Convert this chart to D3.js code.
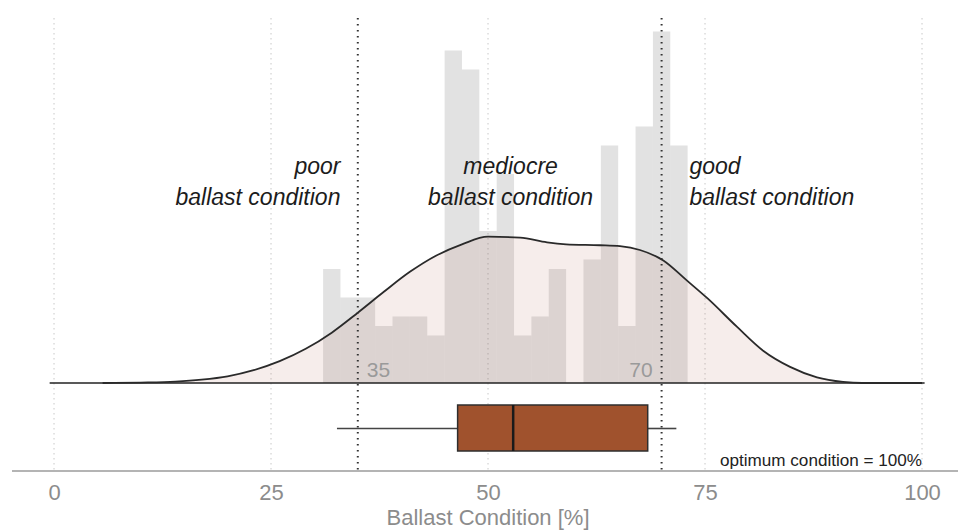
<!DOCTYPE html>
<html>
<head>
<meta charset="utf-8">
<script src="https://cdn.jsdelivr.net/npm/d3@7"></script>
<style>
  html, body { margin: 0; padding: 0; background: #fff; }
  svg { display: block; font-family: "Liberation Sans", Arial, sans-serif; }
</style>
</head>
<body>
<svg id="chart" width="962" height="532"></svg>
<script>
// Histogram of ballast condition, bins of 2 %, counts per bin
const binStarts = [31, 33, 35, 37, 39, 41, 43, 45, 47, 49, 51, 53, 55, 57, 59, 61, 63, 65, 67, 69, 71];
const binCounts = [12, 9, 9, 6, 7, 7, 5, 35, 33, 16, 22, 5, 7, 12, 0, 13, 25, 6, 27, 37, 25];
const binWidth = 2;

// Kernel density estimate, scaled to counts
const densityX = [5.6, 10, 14, 17, 20, 23, 26, 29, 32, 35, 38, 41, 44, 47, 50, 53.7, 56.8, 59, 62.9, 65.2, 67.5, 70.2, 72.9, 75.3, 78.7, 81.7, 84.8, 87.9, 90.9, 93.1, 100];
const densityY = [0, 0.05, 0.15, 0.35, 0.7, 1.35, 2.3, 3.6, 5.3, 7.4, 9.6, 11.7, 13.4, 14.6, 15.4, 15.3, 14.8, 14.6, 14.5, 14.4, 14.0, 12.9, 10.8, 8.9, 5.9, 3.4, 1.7, 0.6, 0.12, 0, 0];

// Boxplot summary
const boxStats = { min: 32.6, q1: 46.5, median: 52.9, q3: 68.4, max: 71.7 };

// Condition thresholds and axis ticks
const thresholds = [35, 70];
const xTicks = [0, 25, 50, 75, 100];
const conditionLabels = [
  { at: 33, anchor: "end", lines: ["poor", "ballast condition"] },
  { at: 52.6, anchor: "middle", lines: ["mediocre", "ballast condition"] },
  { at: 73.2, anchor: "start", lines: ["good", "ballast condition"] }
];

const svg = d3.select("#chart");
const x = d3.scaleLinear().domain([0, 100]).range([54, 922]);
const y = d3.scaleLinear().domain([0, 40]).range([383, 3]);

const gridTop = 18, axisY = 471;

// light vertical grid
svg.append("g").selectAll("line").data(xTicks).join("line")
  .attr("x1", d => x(d)).attr("x2", d => x(d))
  .attr("y1", gridTop).attr("y2", axisY)
  .attr("stroke", "#c8c8c8").attr("stroke-width", 1)
  .attr("stroke-dasharray", "1.5,3.5");

// histogram bars
svg.append("g").selectAll("rect").data(binStarts).join("rect")
  .attr("x", d => x(d))
  .attr("width", x(binWidth) - x(0))
  .attr("y", (d, i) => y(binCounts[i]))
  .attr("height", (d, i) => y(0) - y(binCounts[i]))
  .attr("fill", "rgba(120,120,120,0.21)");

// density curve
const pts = densityX.map((d, i) => [d, densityY[i]]);
const area = d3.area().x(d => x(d[0])).y0(y(0)).y1(d => y(d[1])).curve(d3.curveMonotoneX);
const line = d3.line().x(d => x(d[0])).y(d => y(d[1])).curve(d3.curveMonotoneX);
svg.append("path").datum(pts).attr("d", area).attr("fill", "rgba(170,95,70,0.11)");

// baseline
svg.append("line")
  .attr("x1", x(-0.5)).attr("x2", x(100.3))
  .attr("y1", y(0)).attr("y2", y(0))
  .attr("stroke", "#222").attr("stroke-width", 1.6);

svg.append("path").datum(pts).attr("d", line)
  .attr("fill", "none").attr("stroke", "#2a2a2a").attr("stroke-width", 1.8);

// threshold lines
svg.append("g").selectAll("line").data(thresholds).join("line")
  .attr("x1", d => x(d)).attr("x2", d => x(d))
  .attr("y1", gridTop).attr("y2", axisY)
  .attr("stroke", "#333").attr("stroke-width", 2)
  .attr("stroke-dasharray", "1.5,4.5");

// threshold values
svg.append("text").attr("x", x(thresholds[0]) + 9).attr("y", 377)
  .attr("font-size", 21).attr("fill", "#9a9a9a").text(thresholds[0]);
svg.append("text").attr("x", x(thresholds[1]) - 9).attr("y", 377)
  .attr("text-anchor", "end")
  .attr("font-size", 21).attr("fill", "#9a9a9a").text(thresholds[1]);

// condition labels
conditionLabels.forEach(l => {
  const t = svg.append("text")
    .attr("x", x(l.at)).attr("y", 174)
    .attr("text-anchor", l.anchor)
    .attr("font-size", 23).attr("font-style", "italic").attr("fill", "#1c1c1c");
  l.lines.forEach((s, i) => {
    t.append("tspan").attr("x", x(l.at)).attr("dy", i === 0 ? 0 : 31).text(s);
  });
});

// boxplot
const boxTop = 405, boxBottom = 451, boxMid = 428.5;
svg.append("line")
  .attr("x1", x(boxStats.min)).attr("x2", x(boxStats.q1))
  .attr("y1", boxMid).attr("y2", boxMid)
  .attr("stroke", "#444").attr("stroke-width", 1.6);
svg.append("line")
  .attr("x1", x(boxStats.q3)).attr("x2", x(boxStats.max))
  .attr("y1", boxMid).attr("y2", boxMid)
  .attr("stroke", "#444").attr("stroke-width", 1.6);
svg.append("rect")
  .attr("x", x(boxStats.q1)).attr("width", x(boxStats.q3) - x(boxStats.q1))
  .attr("y", boxTop).attr("height", boxBottom - boxTop)
  .attr("fill", "#a0522d").attr("stroke", "#2e2e2e").attr("stroke-width", 1.5);
svg.append("line")
  .attr("x1", x(boxStats.median)).attr("x2", x(boxStats.median))
  .attr("y1", boxTop).attr("y2", boxBottom)
  .attr("stroke", "#1a1a1a").attr("stroke-width", 2.5);

svg.append("text").attr("x", x(100)).attr("y", 466)
  .attr("text-anchor", "end").attr("font-size", 16).attr("fill", "#222")
  .attr("textLength", 202).attr("lengthAdjust", "spacingAndGlyphs")
  .text("optimum condition = 100%");

// x axis
const axis = d3.axisBottom(x).tickValues(xTicks).tickSize(0).tickPadding(13);
const gAxis = svg.append("g").attr("transform", `translate(0,${axisY})`).call(axis);
gAxis.select(".domain").remove();
gAxis.append("line").attr("x1", 12).attr("x2", 958)
  .attr("stroke", "#b4b4b4").attr("stroke-width", 2);
gAxis.selectAll(".tick text")
  .attr("font-family", "Liberation Sans, Arial, sans-serif")
  .attr("font-size", 22).attr("fill", "#8c8c8c");

svg.append("text").attr("x", x(50)).attr("y", 525)
  .attr("text-anchor", "middle").attr("font-size", 22).attr("fill", "#8c8c8c")
  .text("Ballast Condition [%]");
</script>
</body>
</html>
